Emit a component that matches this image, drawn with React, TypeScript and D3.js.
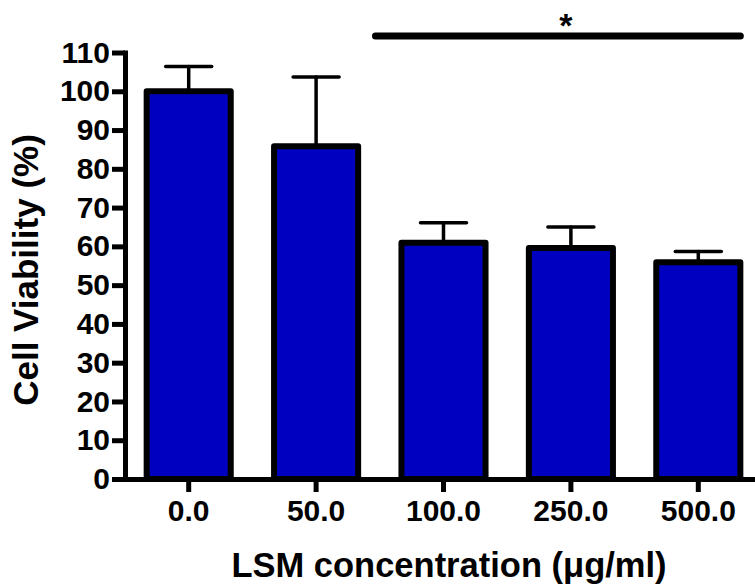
import { axisBottom, axisLeft, scaleBand, scaleLinear, select } from "d3";
import { useEffect, useRef } from "react";

const categories = ["0.0", "50.0", "100.0", "250.0", "500.0"];
const viability = [100, 85.8, 60.9, 59.6, 55.9];
const errors = [6.4, 17.9, 5.2, 5.4, 2.8];
const yTicks = [0, 10, 20, 30, 40, 50, 60, 70, 80, 90, 100, 110];

const W = 755;
const H = 585;
const FONT = "'Liberation Sans', Arial, Helvetica, sans-serif";

export default function App() {
  const xAxisRef = useRef<SVGGElement>(null);
  const yAxisRef = useRef<SVGGElement>(null);

  const x = scaleBand()
    .domain(categories)
    .range([125, 762])
    .paddingInner(0.34)
    .paddingOuter(0.17);
  const y = scaleLinear().domain([0, 110]).range([479, 52.5]);

  useEffect(() => {
    const yAxis = axisLeft(y).tickValues(yTicks).tickSize(13).tickSizeOuter(0).tickPadding(2);
    const gy = select(yAxisRef.current).call(yAxis);
    gy.select(".domain").attr("stroke", "#000").attr("stroke-width", 5).attr("stroke-linecap", "square");
    gy.selectAll(".tick line").attr("stroke", "#000").attr("stroke-width", 5);
    gy.selectAll(".tick text")
      .attr("fill", "#000")
      .style("font-family", FONT)
      .style("font-weight", "bold")
      .style("font-size", "30px");

    const xAxis = axisBottom(x).tickSize(13).tickSizeOuter(0).tickPadding(8);
    const gx = select(xAxisRef.current).call(xAxis);
    gx.select(".domain").attr("stroke", "#000").attr("stroke-width", 5);
    gx.selectAll(".tick line").attr("stroke", "#000").attr("stroke-width", 5);
    gx.selectAll(".tick text")
      .attr("fill", "#000")
      .style("font-family", FONT)
      .style("font-weight", "bold")
      .style("font-size", "30px");
  }, []);

  const bw = x.bandwidth();
  const sigStart = (x("100.0") ?? 0) - 26;
  const sigEnd = (x("500.0") ?? 0) + bw;
  const sigY = 36;

  return (
    <svg width={W} height={H} style={{ position: "absolute", left: 0, top: 0, background: "#fff" }}>
      {/* error bars, upper half only */}
      {categories.map((c, i) => {
        const cx = (x(c) ?? 0) + bw / 2;
        const top = y(viability[i] + errors[i]);
        return (
          <g key={"err" + c} stroke="#000" strokeWidth={3.5} strokeLinecap="round">
            <line x1={cx} x2={cx} y1={y(viability[i])} y2={top} />
            <line x1={cx - 23} x2={cx + 23} y1={top} y2={top} />
          </g>
        );
      })}
      {categories.map((c, i) => (
        <rect
          key={c}
          x={x(c)}
          y={y(viability[i])}
          width={bw}
          height={y(0) - y(viability[i])}
          fill="#0000c0"
          stroke="#000"
          strokeWidth={6}
          strokeLinejoin="round"
        />
      ))}
      <g ref={xAxisRef} transform={`translate(0,${y(0)})`} />
      <g ref={yAxisRef} transform="translate(125,0)" />

      <line x1={sigStart} x2={sigEnd} y1={sigY} y2={sigY} stroke="#000" strokeWidth={7} strokeLinecap="round" />
      <text
        x={(sigStart + sigEnd) / 2 + 8}
        y={37}
        textAnchor="middle"
        fontFamily={FONT}
        fontWeight="bold"
        fontSize={34}
      >
        *
      </text>

      <text
        transform="translate(38,270) rotate(-90)"
        textAnchor="middle"
        fontFamily={FONT}
        fontWeight="bold"
        fontSize={35}
      >
        Cell Viability (%)
      </text>
      <text x={449} y={577} textAnchor="middle" fontFamily={FONT} fontWeight="bold" fontSize={34.5}>
        LSM concentration (μg/ml)
      </text>
    </svg>
  );
}
